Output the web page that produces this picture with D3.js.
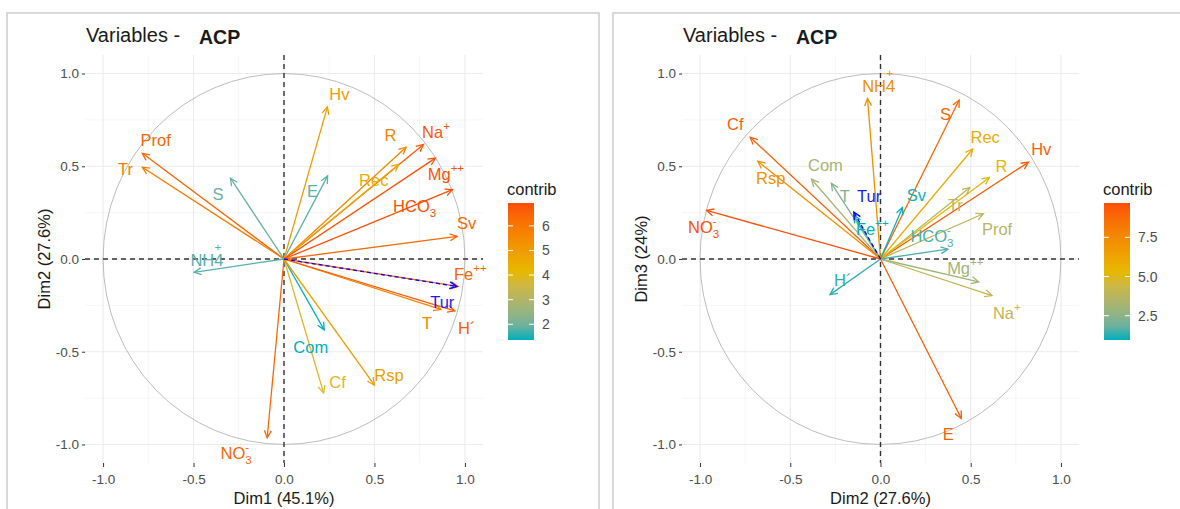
<!DOCTYPE html>
<meta charset="utf-8">
<style>
body { margin: 0; background: #fff; }
svg { font-family: "Liberation Sans", Arial, sans-serif; }
.frame { fill: #fff; stroke: #CFCFCF; stroke-width: 1.6; }
.grid-major { stroke: #EBEBEB; stroke-width: 1.1; }
.grid-minor { stroke: #F3F3F3; stroke-width: 0.8; }
.axis .domain { display: none; }
.axis line { stroke: #333; }
.axis text { fill: #4D4D4D; font-size: 13.5px; font-family: "Liberation Sans", Arial, sans-serif; }
.zero { stroke: #333; stroke-width: 1.4; stroke-dasharray: 5,4; }
.circle { fill: none; stroke: #BDBDBD; stroke-width: 1; }
</style>
<svg width="1180" height="509"></svg>
<script src="https://d3js.org/d3.v7.min.js"></script>
<script>

// active variables
var vars = ["Prof","Tr","S","E","NH4","Hv","R","Na","Rec","Mg","HCO3","Sv","Fe","T","H","Com","Cf","Rsp","NO3"];
var dim1 = [-0.783,-0.783,-0.296,0.241,-0.497,0.240,0.675,0.771,0.635,0.837,0.931,0.957,0.962,0.867,0.944,0.222,0.219,0.500,-0.093];
var dim2 = [0.570,0.495,0.436,0.448,-0.072,0.820,0.603,0.618,0.511,0.544,0.374,0.122,-0.148,-0.272,-0.280,-0.382,-0.722,-0.680,-0.964];
var dim3 = [0.244,0.385,0.857,-0.860,0.865,0.522,0.440,-0.197,0.593,-0.123,0.053,0.278,0.235,0.408,-0.192,0.430,0.657,0.527,0.262];
var contrib12 = [6.44,5.90,1.91,1.76,1.74,4.98,5.65,6.73,4.58,6.85,6.93,6.40,6.49,5.70,6.68,1.36,3.96,4.95,6.45];
var contrib23 = [3.74,3.81,8.95,9.15,7.30,9.22,5.38,4.05,5.93,3.04,1.39,0.98,0.95,2.30,1.10,3.19,9.17,7.12,9.69];

// label text (_ = subscript, ^ = superscript, ~ = raised mark over last char) and where the labels sit
var labels12 = ["Prof","Tr","S","E","NH4~+","Hv","R","Na^+","Rec","Mg^++","HCO_3","Sv","Fe^++","T","H´","Com","Cf","Rsp","NO_3^-"];
var labels23 = ["Prof","Tr","S","E","NH4~+","Hv","R","Na^+","Rec","Mg^++","HCO_3^-","Sv","Fe^++","T","H´","Com","Cf","Rsp","NO_3^-"];
var labX12 = [-0.709,-0.876,-0.365,0.157,-0.426,0.306,0.589,0.840,0.496,0.895,0.722,1.009,1.030,0.791,1.010,0.148,0.296,0.580,-0.265];
var labY12 = [0.640,0.485,0.351,0.364,-0.005,0.886,0.670,0.683,0.427,0.458,0.283,0.193,-0.081,-0.348,-0.373,-0.477,-0.667,-0.625,-1.045];
var labX23 = [0.646,0.415,0.360,0.375,-0.010,0.891,0.670,0.700,0.580,0.470,0.285,0.199,-0.045,-0.198,-0.209,-0.305,-0.805,-0.608,-0.980];
var labY23 = [0.158,0.289,0.780,-0.945,0.933,0.591,0.502,-0.292,0.659,-0.048,0.122,0.345,0.160,0.336,-0.116,0.507,0.728,0.437,0.174];

// supplementary variable (blue, dashed)
var supVars = ["Tur"];
var supDim1 = [0.955];
var supDim2 = [-0.148];
var supDim3 = [0.253];
var supLabX12 = [0.875], supLabY12 = [-0.234];
var supLabX23 = [-0.063], supLabY23 = [0.337];

var axisTicks = [-1, -0.5, 0, 0.5, 1];
var minorTicks = [-0.75, -0.25, 0.25, 0.75];
var legendTicks12 = [2, 3, 4, 5, 6];
var legendTicks23 = [2.5, 5, 7.5];

var gradCols = ["#00AFBB", "#E7B800", "#FC4E07"];

var svg = d3.select("svg");

svg.append("rect").attr("class", "frame").attr("x", 7).attr("y", 13).attr("width", 592).attr("height", 520);
svg.append("rect").attr("class", "frame").attr("x", 613).attr("y", 13).attr("width", 600).attr("height", 520);

drawPanel({
  id: "p1", left: 85, right: 483,
  xs: dim1, ys: dim2, contrib: contrib12,
  labels: labels12, labX: labX12, labY: labY12,
  supX: supDim1, supY: supDim2, supLabX: supLabX12, supLabY: supLabY12,
  xTitle: "Dim1 (45.1%)", yTitle: "Dim2 (27.6%)",
  legendTicks: legendTicks12, legendFmt: function(d) { return d; }
});
drawPanel({
  id: "p2", left: 682, right: 1079,
  xs: dim2, ys: dim3, contrib: contrib23,
  labels: labels23, labX: labX23, labY: labY23,
  supX: supDim2, supY: supDim3, supLabX: supLabX23, supLabY: supLabY23,
  xTitle: "Dim2 (27.6%)", yTitle: "Dim3 (24%)",
  legendTicks: legendTicks23, legendFmt: function(d) { return d.toFixed(1); }
});

function drawPanel(o) {
  var top = 55, bottom = 463;
  var x = d3.scaleLinear().domain([-1.1, 1.1]).range([o.left, o.right]);
  var y = d3.scaleLinear().domain([-1.1, 1.1]).range([bottom, top]);
  var ext = d3.extent(o.contrib);
  var color = d3.scaleLinear()
      .domain([ext[0], (ext[0] + ext[1]) / 2, ext[1]])
      .range(gradCols)
      .interpolate(d3.interpolateLab);

  var g = svg.append("g");

  // grid
  g.selectAll(".vmin").data(minorTicks).enter().append("line").attr("class", "grid-minor")
    .attr("x1", x).attr("x2", x).attr("y1", top).attr("y2", bottom);
  g.selectAll(".hmin").data(minorTicks).enter().append("line").attr("class", "grid-minor")
    .attr("y1", y).attr("y2", y).attr("x1", o.left).attr("x2", o.right);
  g.selectAll(".vmaj").data(axisTicks).enter().append("line").attr("class", "grid-major")
    .attr("x1", x).attr("x2", x).attr("y1", top).attr("y2", bottom);
  g.selectAll(".hmaj").data(axisTicks).enter().append("line").attr("class", "grid-major")
    .attr("y1", y).attr("y2", y).attr("x1", o.left).attr("x2", o.right);

  // axes
  var fmt = function(d) { return d.toFixed(1); };
  g.append("g").attr("class", "axis").attr("transform", "translate(0," + bottom + ")")
    .call(d3.axisBottom(x).tickValues(axisTicks).tickSize(4).tickPadding(7).tickFormat(fmt));
  g.append("g").attr("class", "axis").attr("transform", "translate(" + o.left + ",0)")
    .call(d3.axisLeft(y).tickValues(axisTicks).tickSize(3).tickPadding(3).tickFormat(fmt));

  // correlation circle
  g.append("ellipse").attr("class", "circle")
    .attr("cx", x(0)).attr("cy", y(0))
    .attr("rx", x(1) - x(0)).attr("ry", y(0) - y(1));

  // dashed zero lines
  g.append("line").attr("class", "zero").attr("x1", o.left).attr("x2", o.right).attr("y1", y(0)).attr("y2", y(0));
  g.append("line").attr("class", "zero").attr("x1", x(0)).attr("x2", x(0)).attr("y1", top).attr("y2", bottom);

  // arrows
  var idx = d3.range(o.xs.length);
  idx.forEach(function(i) {
    arrow(g, x(0), y(0), x(o.xs[i]), y(o.ys[i]), color(o.contrib[i]), null);
  });
  idx.forEach(function(i) {
    label(g, o.labels[i], x(o.labX[i]), y(o.labY[i]), color(o.contrib[i]));
  });

  // supplementary
  supVars.forEach(function(name, i) {
    arrow(g, x(0), y(0), x(o.supX[i]), y(o.supY[i]), "#0000FF", "4,3");
    label(g, name, x(o.supLabX[i]), y(o.supLabY[i]), "#1E1EE6");
  });

  // axis titles
  g.append("text").attr("x", (o.left + o.right) / 2).attr("y", 504)
    .attr("text-anchor", "middle").attr("font-size", "16.5px").attr("fill", "#1A1A1A")
    .text(o.xTitle);
  g.append("text")
    .attr("transform", "translate(" + (o.left - 35) + "," + y(0) + ") rotate(-90)")
    .attr("text-anchor", "middle").attr("font-size", "16.5px").attr("fill", "#1A1A1A")
    .text(o.yTitle);

  // title
  var t = g.append("text").attr("x", o.left + 1).attr("y", 42).attr("fill", "#1A1A1A");
  t.append("tspan").attr("font-size", "20px").text("Variables -");
  t.append("tspan").attr("x", o.left + 114).attr("dy", 2).attr("font-size", "19.5px")
    .attr("font-weight", "bold").text("ACP");

  // legend
  var lx = o.right + 25, lw = 26;
  var ly = d3.scaleLinear().domain(ext).range([340, 203]);
  var grad = svg.append("defs").append("linearGradient").attr("id", "grad-" + o.id)
    .attr("x1", 0).attr("y1", 1).attr("x2", 0).attr("y2", 0);
  d3.range(0, 1.0001, 0.1).forEach(function(p) {
    grad.append("stop").attr("offset", p)
      .attr("stop-color", color(ext[0] + p * (ext[1] - ext[0])));
  });
  g.append("text").attr("x", lx - 1).attr("y", 195).attr("font-size", "16.5px")
    .attr("fill", "#1A1A1A").text("contrib");
  g.append("rect").attr("x", lx).attr("y", ly(ext[1])).attr("width", lw)
    .attr("height", ly(ext[0]) - ly(ext[1])).attr("fill", "url(#grad-" + o.id + ")");
  var lt = g.selectAll(".lt").data(o.legendTicks).enter().append("g");
  lt.append("line").attr("x1", lx).attr("x2", lx + 5).attr("y1", ly).attr("y2", ly)
    .attr("stroke", "#fff").attr("stroke-width", 1);
  lt.append("line").attr("x1", lx + lw - 5).attr("x2", lx + lw).attr("y1", ly).attr("y2", ly)
    .attr("stroke", "#fff").attr("stroke-width", 1);
  lt.append("text").attr("x", lx + lw + 8).attr("y", function(d) { return ly(d) + 5; })
    .attr("font-size", "14px").attr("fill", "#4D4D4D").text(o.legendFmt);
}

function arrow(g, x0, y0, x1, y1, col, dash) {
  g.append("line").attr("x1", x0).attr("y1", y0).attr("x2", x1).attr("y2", y1)
    .attr("stroke", col).attr("stroke-width", 1.3)
    .attr("stroke-dasharray", dash);
  var a = Math.atan2(y1 - y0, x1 - x0), len = 8, sp = Math.PI / 7;
  var p = "M" + (x1 - len * Math.cos(a - sp)) + "," + (y1 - len * Math.sin(a - sp)) +
          "L" + x1 + "," + y1 +
          "L" + (x1 - len * Math.cos(a + sp)) + "," + (y1 - len * Math.sin(a + sp));
  g.append("path").attr("d", p).attr("fill", "none").attr("stroke", col).attr("stroke-width", 1.3);
}

function label(g, s, px, py, col) {
  var fs = 16.5;
  var t = g.append("text").attr("x", px).attr("y", py + fs * 0.35)
    .attr("text-anchor", "middle").attr("font-size", fs + "px").attr("fill", col);
  var re = /([_^~]?)([^_^~]+)/g, m, shift = 0, prev = "", prevLen = 0;
  while ((m = re.exec(s))) {
    var kind = m[1], txt = m[2];
    var ts = t.append("tspan").text(txt);
    if (kind === "") {
      ts.attr("dy", -shift); shift = 0;
    } else if (kind === "_") {
      ts.attr("font-size", "11.5px").attr("dy", 5 - shift); shift = 5;
    } else if (kind === "~") {
      ts.attr("font-size", "11.5px").attr("dy", -15 - shift).attr("dx", -9); shift = -15;
    } else {
      ts.attr("font-size", "11.5px").attr("dy", -8 - shift);
      if (prev === "_") ts.attr("dx", -prevLen * 6.4);
      shift = -8;
    }
    prev = kind; prevLen = txt.length;
  }
}
</script>
